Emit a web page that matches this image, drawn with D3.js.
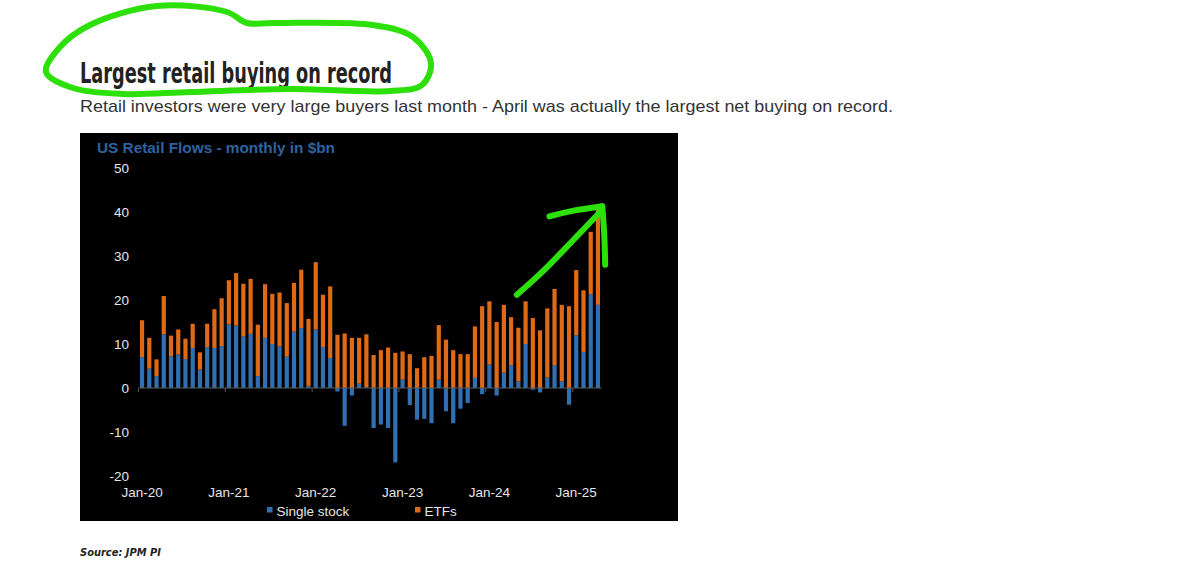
<!DOCTYPE html>
<html>
<head>
<meta charset="utf-8">
<script src="https://cdn.jsdelivr.net/npm/d3@7"></script>
<style>
  html, body { margin: 0; padding: 0; background: #ffffff; }
  svg { display: block; }
</style>
</head>
<body>
<svg id="chart" width="1200" height="576"></svg>
<script>
// ---- Data (US retail flows, monthly, $bn) ----
const months = d3.timeMonths(new Date(2020, 0, 1), new Date(2025, 4, 1)).map(d3.timeFormat("%b-%y"));
const singleStock = [
  7.0, 4.4, 2.7, 12.2, 7.2, 7.6, 6.6, 9.1, 4.2, 9.3, 9.1, 9.5,
  14.5, 14.2, 11.7, 12.3, 2.7, 11.4, 10.0, 9.5, 7.1, 12.8, 13.6, 0.5,
  13.3, 9.3, 6.8, -0.8, -8.6, -1.7, 1.0, 0.2, -9.1, -8.3, -9.1, -16.9,
  1.9, -3.9, -7.2, -7.0, -8.0, 1.9, -5.3, -8.0, -4.7, -3.4, 2.3, -1.4,
  5.3, -1.7, 3.5, 5.2, 1.5, 10.0, -0.4, -1.0, 2.4, 5.2, 1.5, -3.8,
  12.0, 8.2, 21.3, 18.9
];
const etfs = [
  8.4, 7.0, 3.8, 8.7, 4.7, 5.7, 4.6, 5.5, 3.9, 5.3, 8.8, 10.9,
  10.0, 11.9, 12.0, 12.5, 11.7, 12.2, 11.4, 12.2, 12.2, 11.1, 13.3, 15.2,
  15.3, 11.9, 16.3, 12.1, 12.4, 11.4, 10.4, 12.0, 7.5, 8.6, 9.2, 8.0,
  6.4, 7.7, 4.5, 7.0, 7.3, 12.4, 11.0, 8.6, 7.7, 7.7, 11.7, 18.6,
  14.4, 15.0, 15.4, 10.9, 12.2, 9.7, 15.9, 13.1, 15.7, 17.3, 17.4, 18.6,
  14.8, 14.0, 14.2, 22.0
];
const seriesNames = ["Single stock", "ETFs"];
const yTicks = [-20, -10, 0, 10, 20, 30, 40, 50];
const xTickLabels = ["Jan-20", "Jan-21", "Jan-22", "Jan-23", "Jan-24", "Jan-25"];

// ---- Layout ----
const svg = d3.select("#chart");
const colors = { "Single stock": "#3070b0", "ETFs": "#de6a18" };
const panel = { x: 80, y: 133, w: 598, h: 388 };
const titlePos = { x: 80, y: 83 };

// Page title & subtitle
svg.append("text")
  .attr("x", titlePos.x).attr("y", titlePos.y)
  .attr("font-family", "'Liberation Sans Narrow', 'DejaVu Sans Condensed', sans-serif")
  .attr("font-weight", "bold").attr("font-size", 29)
  .attr("fill", "#222")
  .attr("textLength", 312).attr("lengthAdjust", "spacingAndGlyphs")
  .text("Largest retail buying on record");

svg.append("text")
  .attr("x", 80).attr("y", 112)
  .attr("font-family", "'Liberation Sans', Arial, sans-serif")
  .attr("font-size", 16.2).attr("fill", "#333")
  .attr("textLength", 813).attr("lengthAdjust", "spacingAndGlyphs")
  .text("Retail investors were very large buyers last month - April was actually the largest net buying on record.");

// Black panel
svg.append("rect")
  .attr("x", panel.x).attr("y", panel.y).attr("width", panel.w).attr("height", panel.h)
  .attr("fill", "#000");

svg.append("text")
  .attr("x", 97).attr("y", 153)
  .attr("font-family", "'Liberation Sans', Arial, sans-serif")
  .attr("font-weight", "bold").attr("font-size", 15)
  .attr("fill", "#2f62a0")
  .attr("textLength", 238).attr("lengthAdjust", "spacingAndGlyphs")
  .text("US Retail Flows - monthly in $bn");

// Scales
const x = d3.scaleBand().domain(months).range([138.5, 601.5]).paddingInner(0.42).paddingOuter(0.2);
const y = d3.scaleLinear().domain([-20, 50]).range([476, 168]);

// Stack data
const rows = months.map((m, i) => ({ month: m, "Single stock": singleStock[i], "ETFs": etfs[i] }));
const stacked = d3.stack().keys(seriesNames).offset(d3.stackOffsetDiverging)(rows);

svg.append("g").selectAll("g")
  .data(stacked).join("g")
  .attr("fill", d => colors[d.key])
  .selectAll("rect")
  .data(d => d).join("rect")
  .attr("x", d => x(d.data.month))
  .attr("width", x.bandwidth())
  .attr("y", d => y(Math.max(d[0], d[1])))
  .attr("height", d => Math.abs(y(d[0]) - y(d[1])));

// Zero axis line & year ticks
const axisG = svg.append("g").attr("transform", `translate(0,${y(0)})`);
axisG.append("line")
  .attr("x1", x.range()[0]).attr("x2", x.range()[1])
  .attr("stroke", "#5a5a5a").attr("stroke-width", 1);
axisG.selectAll("line.tk")
  .data(xTickLabels).join("line").attr("class", "tk")
  .attr("x1", d => x(d) - x.step() * x.paddingInner() / 2)
  .attr("x2", d => x(d) - x.step() * x.paddingInner() / 2)
  .attr("y1", 0).attr("y2", 4)
  .attr("stroke", "#5a5a5a");

// Y tick labels
svg.append("g").selectAll("text")
  .data(yTicks).join("text")
  .attr("x", 129).attr("y", d => y(d))
  .attr("dy", "0.36em").attr("text-anchor", "end")
  .attr("font-family", "'Liberation Sans', Arial, sans-serif")
  .attr("font-size", 13.5).attr("fill", "#e6e6e6")
  .text(d => d);

// X tick labels
svg.append("g").selectAll("text")
  .data(xTickLabels).join("text")
  .attr("x", d => x(d) + x.bandwidth() / 2).attr("y", 497)
  .attr("text-anchor", "middle")
  .attr("font-family", "'Liberation Sans', Arial, sans-serif")
  .attr("font-size", 13.5).attr("fill", "#e6e6e6")
  .text(d => d);

// Legend
const legendX = { "Single stock": 267, "ETFs": 415 };
const leg = svg.append("g").selectAll("g").data(seriesNames).join("g")
  .attr("transform", d => `translate(${legendX[d]},516)`);
leg.append("rect").attr("x", 0).attr("y", -9).attr("width", 5.5).attr("height", 5.5)
  .attr("fill", d => colors[d]);
leg.append("text").attr("x", 9.5).attr("y", 0)
  .attr("font-family", "'Liberation Sans', Arial, sans-serif")
  .attr("font-size", 13.5).attr("fill", "#e6e6e6")
  .text(d => d);

// Source
svg.append("text")
  .attr("x", 80).attr("y", 556)
  .attr("font-family", "'Liberation Sans Narrow', 'DejaVu Sans Condensed', sans-serif")
  .attr("font-weight", "bold").attr("font-style", "italic").attr("font-size", 11)
  .attr("fill", "#222")
  .text("Source: JPM PI");

// ---- Green hand-drawn annotations ----
const green = "#2ee00a";
// Loop around the title (offsets from the title's anchor)
const loopOffsets = [
  [-34, -11], [-20, -36], [10, -58], [77, -77], [147, -71], [167, -60],
  [193, -60], [293, -58], [333, -46], [351, -20], [342, 2], [310, 8],
  [210, 6], [110, 9], [43, 11], [-7, 5]
];
const loopPts = loopOffsets.map(([dx, dy]) => [titlePos.x + dx, titlePos.y + dy]);
svg.append("path")
  .attr("d", d3.line().curve(d3.curveCatmullRomClosed.alpha(0.5))(loopPts))
  .attr("fill", "none").attr("stroke", green).attr("stroke-width", 6)
  .attr("stroke-linecap", "round").attr("stroke-linejoin", "round");

// Arrow pointing at the latest month, in data coordinates (month index, $bn)
const xi = i => x(months[0]) + x.bandwidth() / 2 + i * x.step();
const arrowLine = d3.line().curve(d3.curveBasis).x(d => xi(d[0])).y(d => y(d[1]));
svg.append("path")
  .attr("d", arrowLine([[51.8, 21.2], [55.5, 26.5], [59.5, 33.5], [63.3, 40.0]]))
  .attr("fill", "none").attr("stroke", green).attr("stroke-width", 6).attr("stroke-linecap", "round");
svg.append("path")
  .attr("d", arrowLine([[56.3, 39.0], [59.5, 40.4], [63.6, 41.3]]))
  .attr("fill", "none").attr("stroke", green).attr("stroke-width", 6).attr("stroke-linecap", "round");
svg.append("path")
  .attr("d", arrowLine([[63.6, 41.3], [63.9, 35], [64.0, 28.0]]))
  .attr("fill", "none").attr("stroke", green).attr("stroke-width", 6).attr("stroke-linecap", "round");
</script>
</body>
</html>
